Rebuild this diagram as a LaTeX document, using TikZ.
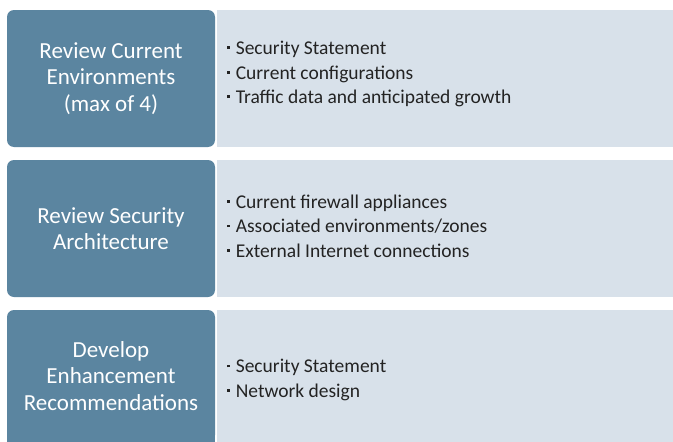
\documentclass[tikz,border=0pt]{standalone}
\usepackage{fontspec}
\setmainfont{Carlito}
\definecolor{stepblue}{RGB}{91,133,160}
\definecolor{detailgray}{RGB}{216,225,234}
\definecolor{itemink}{RGB}{35,35,35}
\newcommand{\itemdot}{\raisebox{0.28em}{\rule{2.6pt}{2.6pt}}\hspace{6pt}}
\tikzset{
    stepbox/.style={fill=stepblue, rounded corners=7pt, minimum width=208pt, inner sep=0pt,
        text=white, align=center, font=\fontsize{23}{26.5}\selectfont},
    detailbox/.style={fill=detailgray, minimum width=456pt, inner sep=0pt},
    itemtext/.style={anchor=west, align=left, text=itemink, inner sep=0pt,
        font=\fontsize{19.5}{24.5}\selectfont}
}
\begin{document}
\begin{tikzpicture}[x=1pt, y=-1pt]
\clip (0,0) rectangle (673,442);
\fill[white] (0,0) rectangle (673,442);

% left step boxes
\node[stepbox, minimum height=137pt] (step1) at (111,78.5) {Review Current\\Environments\\(max of 4)};
\node[stepbox, minimum height=137pt] (step2) at (111,228.5) {Review Security\\Architecture};
\node[stepbox, minimum height=132pt] (step3) at (111,376) {Develop\\Enhancement\\Recommendations};
% last box runs off the bottom edge, so square it off there
\fill[stepblue] ([yshift=10pt]step3.south west) rectangle ([yshift=-2pt]step3.south east);

% right detail boxes
\node[detailbox, minimum height=137pt] (detail1) at (445,78.5) {};
\node[detailbox, minimum height=137pt] (detail2) at (445,228.5) {};
\node[detailbox, minimum height=140pt] (detail3) at (445,380) {};

% bullet lists
\node[itemtext] (list1) at (227,74) {\itemdot Security Statement\\\itemdot Current configurations\\\itemdot Traffic data and anticipated growth};
\node[itemtext] (list2) at (227,226) {\itemdot Current firewall appliances\\\itemdot Associated environments/zones\\\itemdot External Internet connections};
\node[itemtext] (list3) at (227,380) {\itemdot Security Statement\\\itemdot Network design};
\end{tikzpicture}
\end{document}
